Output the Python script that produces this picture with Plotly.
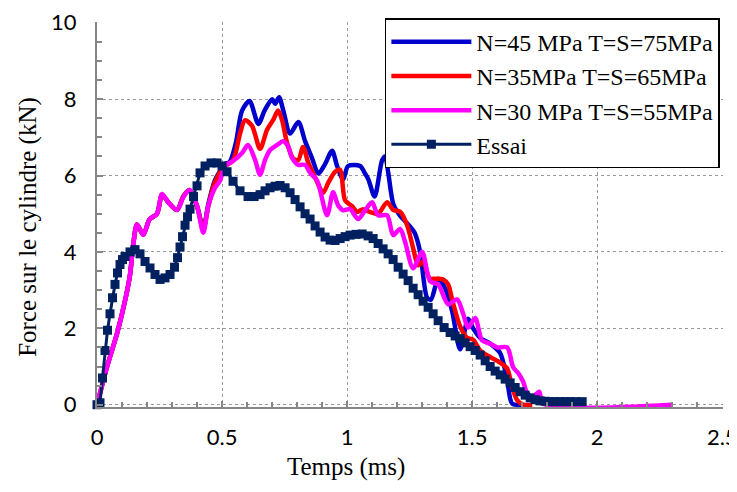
import plotly.graph_objects as go

# ---- data (time in ms, force in kN) ----
t_n45 = [0, 0.02, 0.044, 0.08, 0.112, 0.132, 0.145, 0.16, 0.185, 0.21, 0.24, 0.26, 0.285, 0.32, 0.345,
         0.37, 0.4, 0.425, 0.445, 0.47, 0.49, 0.51, 0.53, 0.555, 0.58, 0.61, 0.645, 0.67, 0.7, 0.712,
         0.728, 0.745, 0.772, 0.805, 0.832, 0.86, 0.885, 0.912, 0.94, 0.96, 0.984, 1.004, 1.052, 1.072,
         1.085, 1.11, 1.14, 1.152, 1.165, 1.185, 1.212, 1.24, 1.27, 1.292, 1.32, 1.335, 1.365, 1.392,
         1.42, 1.452, 1.484, 1.504, 1.532, 1.572, 1.612, 1.64, 1.66, 1.7]
f_n45 = [0, 0.5, 1.08, 1.86, 2.72, 3.4, 4.2, 4.72, 4.45, 4.85, 5.0, 5.5, 5.3, 5.1, 5.45,
         5.62, 5.2, 4.62, 5.25, 5.85, 6.1, 6.3, 6.35, 6.85, 7.7, 7.95, 7.35, 7.7, 8.0, 7.88,
         8.05, 7.7, 7.1, 7.4, 6.9, 6.45, 6.05, 6.3, 6.65, 6.25, 5.9, 6.25, 6.25, 6.05,
         5.9, 5.45, 6.4, 6.5, 6.05, 5.25, 4.95, 4.75, 4.5, 4.0, 2.8, 2.75, 3.3, 3.05,
         2.45, 1.45, 2.25, 2.0, 1.75, 1.6, 1.35, 0.65, 0.03, 0.0]

t_n35 = [0, 0.02, 0.044, 0.08, 0.112, 0.132, 0.145, 0.16, 0.185, 0.21, 0.24, 0.26, 0.285, 0.32, 0.345,
         0.37, 0.4, 0.425, 0.445, 0.47, 0.504, 0.544, 0.572, 0.592, 0.62, 0.652, 0.68, 0.704, 0.724,
         0.74, 0.76, 0.784, 0.804, 0.824, 0.844, 0.872, 0.904, 0.924, 0.952, 0.972, 0.992, 1.02, 1.04,
         1.064, 1.09, 1.124, 1.16, 1.184, 1.212, 1.24, 1.264, 1.284, 1.304, 1.33, 1.352, 1.384, 1.404,
         1.42, 1.452, 1.48, 1.504, 1.532, 1.572, 1.612, 1.64, 1.66, 1.68, 1.704, 1.74]
f_n35 = [0, 0.5, 1.08, 1.86, 2.72, 3.4, 4.2, 4.72, 4.45, 4.85, 5.0, 5.5, 5.3, 5.1, 5.45,
         5.62, 5.2, 4.6, 5.2, 5.8, 6.2, 6.4, 7.1, 7.45, 7.3, 6.7, 7.2, 7.45, 7.7,
         7.45, 6.85, 6.45, 6.4, 6.75, 6.35, 5.95, 5.55, 5.8, 6.1, 6.15, 5.35, 5.2, 5.05,
         5.12, 5.05, 5.0, 5.3, 5.1, 5.05, 4.7, 4.1, 3.65, 3.75, 3.3, 3.3, 3.28, 3.15,
         2.75, 2.05, 1.75, 1.7, 1.42, 1.25, 1.1, 0.95, 0.45, 0.12, 0.0, 0.0]

t_n30 = [0, 0.02, 0.044, 0.08, 0.112, 0.132, 0.145, 0.16, 0.185, 0.21, 0.24, 0.26, 0.285, 0.32, 0.345,
         0.37, 0.4, 0.425, 0.445, 0.472, 0.492, 0.512, 0.544, 0.58, 0.604, 0.632, 0.652, 0.672, 0.692,
         0.72, 0.744, 0.764, 0.78, 0.804, 0.832, 0.852, 0.88, 0.92, 0.944, 0.964, 0.984, 1.012, 1.044,
         1.072, 1.1, 1.124, 1.16, 1.184, 1.212, 1.232, 1.264, 1.3, 1.332, 1.364, 1.404, 1.44, 1.464,
         1.484, 1.512, 1.54, 1.572, 1.6, 1.64, 1.664, 1.684, 1.704, 1.72, 1.744, 1.768, 1.784, 2.3]
f_n30 = [0, 0.5, 1.08, 1.86, 2.72, 3.4, 4.2, 4.72, 4.45, 4.85, 5.0, 5.52, 5.3, 5.1, 5.43,
         5.62, 5.2, 4.5, 5.2, 5.68, 5.87, 6.25, 6.38, 6.59, 6.8, 6.41, 6.02, 6.41, 6.67,
         6.8, 6.9, 6.77, 6.46, 6.28, 6.28, 6.07, 5.87, 4.96, 5.56, 5.22, 5.09, 5.12, 4.86,
         5.09, 5.3, 4.96, 4.96, 4.44, 4.6, 4.26, 3.57, 4.0, 3.23, 3.15, 2.63, 2.76, 2.38,
         2.02, 2.27, 1.68, 1.6, 1.5, 1.5, 0.98, 0.83, 0.6, 0.31, 0.21, 0.34, 0.03, 0.0]

t_essai = [0, 0.012, 0.022, 0.032, 0.042, 0.052, 0.062, 0.072, 0.082, 0.092, 0.102, 0.112, 0.132, 0.152,
           0.172, 0.192, 0.212, 0.232, 0.252, 0.272, 0.292, 0.31, 0.322, 0.332, 0.342, 0.352, 0.362,
           0.372, 0.386, 0.4, 0.412, 0.432, 0.456, 0.48, 0.5, 0.52, 0.544, 0.572, 0.604, 0.628, 0.652,
           0.672, 0.692, 0.712, 0.732, 0.752, 0.772, 0.792, 0.812, 0.832, 0.852, 0.872, 0.892, 0.912,
           0.932, 0.952, 0.972, 0.992, 1.012, 1.036, 1.06, 1.084, 1.104, 1.124, 1.144, 1.164, 1.184,
           1.204, 1.224, 1.244, 1.264, 1.284, 1.304, 1.324, 1.344, 1.364, 1.388, 1.412, 1.432, 1.452,
           1.472, 1.492, 1.512, 1.532, 1.552, 1.572, 1.592, 1.612, 1.632, 1.652, 1.672, 1.692, 1.712,
           1.732, 1.752, 1.772, 1.792, 1.812, 1.832, 1.852, 1.872, 1.892, 1.912, 1.94]
f_essai = [0, 0.05, 0.7, 1.42, 1.95, 2.38, 2.8, 3.15, 3.45, 3.67, 3.8, 3.88, 4.0, 4.06,
           3.95, 3.75, 3.58, 3.41, 3.28, 3.32, 3.41, 3.6, 3.85, 4.13, 4.4, 4.7, 4.92,
           5.12, 5.45, 5.73, 6.07, 6.25, 6.33, 6.33, 6.25, 6.1, 5.85, 5.6, 5.45, 5.45, 5.5,
           5.6, 5.68, 5.72, 5.74, 5.68, 5.55, 5.37, 5.18, 5.0, 4.86, 4.68, 4.52, 4.39,
           4.31, 4.3, 4.35, 4.4, 4.44, 4.46, 4.47, 4.42, 4.35, 4.22, 4.08, 3.95, 3.8,
           3.6, 3.42, 3.25, 3.05, 2.88, 2.71, 2.55, 2.38, 2.2, 2.02, 1.89, 1.8, 1.73,
           1.62, 1.52, 1.42, 1.3, 1.15, 1.0, 0.88, 0.78, 0.67, 0.57, 0.45, 0.34, 0.25,
           0.18, 0.13, 0.1, 0.09, 0.08, 0.08, 0.08, 0.08, 0.08, 0.08, 0.08]

names = ["N=45 MPa T=S=75MPa", "N=35MPa T=S=65MPa", "N=30 MPa T=S=55MPa", "Essai"]
x_ticks = [0, 0.5, 1, 1.5, 2, 2.5]
x_tick_labels = ["0", "0.5", "1", "1.5", "2", "2.5"]
y_ticks = [0, 2, 4, 6, 8, 10]
x_title = "Temps (ms)"
y_title = "Force sur le cylindre (kN)"

SERIF = "Liberation Serif, Times New Roman, serif"
SANS = "Lato, Carlito, sans-serif"

fig = go.Figure()
fig.add_trace(go.Scatter(x=t_n45, y=f_n45, mode="lines", name=names[0],
                         line=dict(color="#0000CC", width=4.5, shape="spline", smoothing=0.8)))
fig.add_trace(go.Scatter(x=t_n35, y=f_n35, mode="lines", name=names[1],
                         line=dict(color="#FF0000", width=4.5, shape="spline", smoothing=0.8)))
fig.add_trace(go.Scatter(x=t_n30, y=f_n30, mode="lines", name=names[2],
                         line=dict(color="#FF00FF", width=4.5, shape="spline", smoothing=0.8)))
fig.add_trace(go.Scatter(x=t_essai, y=f_essai, mode="lines+markers", name=names[3],
                         line=dict(color="#002060", width=3),
                         marker=dict(symbol="square", size=9, color="#002060"),
                         cliponaxis=False))

axis_common = dict(
    showline=True, linecolor="#868686", linewidth=2,
    showgrid=True, gridcolor="#9A9A9A", gridwidth=1.3, griddash="dot",
    zeroline=False, ticks="inside", ticklen=6, tickcolor="#868686", tickwidth=1.5,
    tickfont=dict(family=SANS, size=22, color="black"),
    automargin=False, ticklabeloverflow="allow",
)

# the page body has an 8 px default margin, so the figure is sized to the visible area
fig.update_layout(
    width=729, height=484,
    margin=dict(l=89, r=14, t=10, b=85),
    paper_bgcolor="white", plot_bgcolor="white",
    xaxis=dict(range=[0, 2.503], tickvals=x_ticks, ticktext=x_tick_labels,
               ticklabelstandoff=10,
               minor=dict(dtick=0.1, ticks="inside", ticklen=5, tickcolor="#868686", showgrid=False),
               **axis_common),
    yaxis=dict(range=[-0.06, 10.02], tickvals=y_ticks,
               ticklabelstandoff=14,
               minor=dict(dtick=0.5, ticks="inside", ticklen=5, tickcolor="#868686", showgrid=False),
               **axis_common),
    legend=dict(x=0.995, y=1.01, xanchor="right", yanchor="top",
                bgcolor="white", bordercolor="black", borderwidth=1.5,
                font=dict(family=SERIF, size=24, color="black"),
                tracegroupgap=0, itemwidth=80),
    showlegend=True,
    annotations=[
        dict(text=x_title, xref="paper", yref="paper", x=0.398, y=0, xanchor="center",
             yanchor="middle", yshift=-60, showarrow=False,
             font=dict(family=SERIF, size=25, color="black")),
        dict(text=y_title, xref="paper", yref="paper", x=0, y=0.468, xanchor="center",
             yanchor="middle", xshift=-69, textangle=-90, showarrow=False,
             font=dict(family=SERIF, size=25, color="black")),
    ],
)

fig.write_html("out.html")
